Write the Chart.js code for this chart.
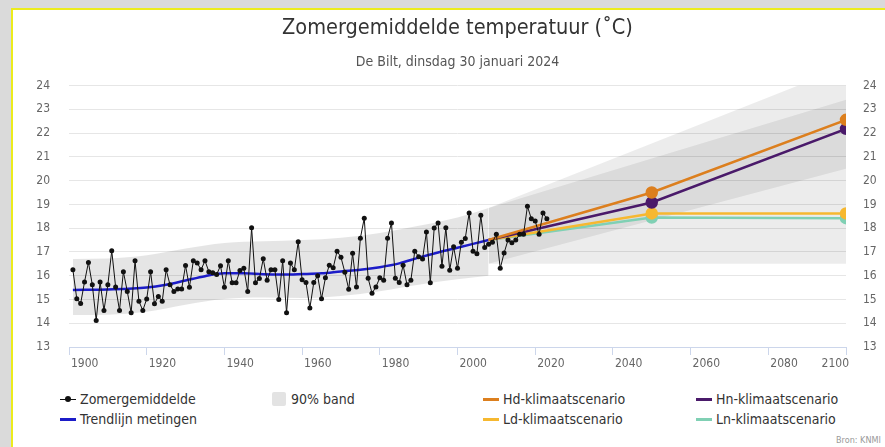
<!DOCTYPE html>
<html lang="nl">
<head>
<meta charset="utf-8">
<title>Zomergemiddelde temperatuur De Bilt</title>
<script src="https://cdn.jsdelivr.net/npm/chart.js@4.4.1/dist/chart.umd.min.js"></script>
<style>
  html, body { margin: 0; padding: 0; }
  body { width: 885px; height: 447px; overflow: hidden; background: #dadada; position: relative;
         font-family: "DejaVu Sans Condensed", "Liberation Sans Narrow", "DejaVu Sans", sans-serif; }
  #frame { position: absolute; left: 11px; top: 8px; width: 900px; height: 460px; background: #fff;
           border-top: 2px solid #ecec1c; border-left: 2px solid #ecec1c; }
  /* canvas runs on past the window edge, same as the white panel, so titles centre on the panel */
  #wrap { position: absolute; left: 0; top: 0; width: 915px; height: 380px; }
  .item { position: absolute; height: 16px; line-height: 16px; font-size: 14px; color: #333; white-space: nowrap; }
  .sym { position: relative; display: inline-block; width: 16px; height: 16px; vertical-align: top; margin-right: 4px; }
  .sym i { position: absolute; left: 0; right: 0; top: 50%; }
  .sym b { position: absolute; left: 5px; top: 5px; width: 6px; height: 6px; border-radius: 50%; }
  #bron { position: absolute; left: 836px; top: 435px; font-size: 9px; color: #999; white-space: nowrap; }
</style>
</head>
<body>
<div id="frame"></div>
<div id="wrap"><canvas id="chart"></canvas></div>
<div id="legend"></div>
<div id="bron">Bron: KNMI</div>
<script>
/* Zomergemiddelde temperatuur De Bilt, metingen + KNMI'14 scenario's */

const TITLE = "Zomergemiddelde temperatuur (˚C)";
const SUBTITLE = "De Bilt, dinsdag 30 januari 2024";
const FONT = "'DejaVu Sans Condensed', 'Liberation Sans Narrow', 'DejaVu Sans', sans-serif";

// metingen, eerste jaar 1901
const startJaar = 1901;
const zomerTemp = [
  16.25, 15.03, 14.83, 15.74, 16.56, 15.62, 14.12, 15.74, 14.54, 15.62, // 1901-1910
  17.05, 15.53, 14.54, 16.17, 15.34, 14.44, 16.63, 14.92, 14.54, 15.02, // 1911-1920
  16.17, 14.82, 15.13, 14.92, 16.25, 15.62, 15.34, 15.44, 15.44, 16.43, // 1921-1930
  15.51, 16.63, 16.54, 16.25, 16.63, 16.17, 16.12, 16.05, 16.42, 15.51, // 1931-1940
  16.63, 15.70, 15.70, 16.22, 16.31, 15.34, 18.02, 15.70, 15.88, 16.71, // 1941-1950
  15.81, 16.25, 16.25, 15.00, 16.63, 14.44, 16.53, 16.25, 17.43, 15.83, // 1951-1960
  15.71, 14.64, 15.71, 16.00, 15.03, 15.91, 16.44, 16.33, 17.03, 16.78, // 1961-1970
  16.15, 15.43, 16.94, 15.53, 17.58, 18.42, 15.89, 15.26, 15.53, 15.91, // 1971-1980
  15.81, 17.58, 18.22, 15.89, 15.71, 16.44, 15.62, 15.81, 17.03, 16.80, // 1981-1990
  16.70, 17.84, 15.70, 18.01, 18.22, 16.40, 18.02, 16.23, 17.22, 16.31, // 1991-2000
  17.41, 17.57, 18.64, 17.03, 16.92, 18.54, 17.19, 17.32, 17.41, 17.74, // 2001-2010
  16.31, 16.96, 17.50, 17.39, 17.50, 17.74, 17.74, 18.92, 18.40, 18.30, // 2011-2020
  17.74, 18.64, 18.40                                                   // 2021-2023
];

// trendlijn metingen
const trendJaren = [1901, 1910, 1920, 1925, 1930, 1935, 1940, 1945, 1950, 1955, 1960, 1965, 1970, 1975, 1980, 1985, 1990, 1995, 2000, 2008];
const trendTemp  = [15.40, 15.42, 15.50, 15.62, 15.80, 15.98, 16.10, 16.10, 16.06, 16.05, 16.07, 16.10, 16.18, 16.25, 16.36, 16.52, 16.76, 16.98, 17.18, 17.50];

// 90% band rond de trendlijn
const bandJaren = [1901, 1910, 1920, 1930, 1940, 1950, 1960, 1970, 1980, 1990, 2000, 2008];
const bandLaag  = [14.35, 14.36, 14.48, 14.78, 15.02, 15.08, 15.06, 15.15, 15.35, 15.62, 15.85, 16.00];
const bandHoog  = [16.70, 16.72, 16.86, 17.14, 17.38, 17.45, 17.50, 17.60, 17.80, 18.10, 18.45, 18.85];

// klimaatscenario's
const scenJaren = [2008, 2050, 2100];
const hd = [17.5, 19.50, 22.56];
const hn = [17.5, 19.08, 22.18];
const ld = [17.5, 18.62, 18.62];
const ln = [17.5, 18.45, 18.42];

// onzekerheidsbanden scenario's
const futJaren  = [2008, 2100];
const hBandLaag = [16.50, 20.50];
const hBandHoog = [18.85, 24.80];
const lBandLaag = [16.50, 16.50];
const lBandHoog = [18.85, 23.40];

const COL = {
  meting: "#111111", trend: "#1c1cc8", band: "rgba(0,0,0,0.10)", scenBand: "rgba(0,0,0,0.075)",
  hd: "#dc7f1e", hn: "#4a1a6a", ld: "#f6b830", ln: "#80d0b4",
};

const pts = (xs, ys) => xs.map((x, i) => ({ x, y: ys[i] }));
const metingen = zomerTemp.map((v, i) => ({ x: startJaar + i, y: v }));

function bandSet(label, xs, ys, fill, order, color) {
  return { label, data: pts(xs, ys), borderWidth: 0, pointRadius: 0, backgroundColor: color,
           cubicInterpolationMode: "monotone", fill, order };
}
function scenSet(label, ys, color) {
  return { label, data: pts(scenJaren, ys), borderColor: color, backgroundColor: color, borderWidth: 2.5,
           pointRadius: [0, 5, 5], pointHoverRadius: 5, fill: false, order: 1 };
}

const datasets = [
  bandSet("band laag", bandJaren, bandLaag, false, 10, COL.band),
  bandSet("90% band", bandJaren, bandHoog, "-1", 10, COL.band),
  bandSet("H laag", futJaren, hBandLaag, false, 9, COL.scenBand),
  bandSet("H hoog", futJaren, hBandHoog, "-1", 9, COL.scenBand),
  bandSet("L laag", futJaren, lBandLaag, false, 8, COL.scenBand),
  bandSet("L hoog", futJaren, lBandHoog, "-1", 8, COL.scenBand),
  scenSet("Hd-klimaatscenario", hd, COL.hd),
  scenSet("Hn-klimaatscenario", hn, COL.hn),
  scenSet("Ld-klimaatscenario", ld, COL.ld),
  scenSet("Ln-klimaatscenario", ln, COL.ln),
  { label: "Trendlijn metingen", data: pts(trendJaren, trendTemp), borderColor: COL.trend, borderWidth: 2.5,
    pointRadius: 0, cubicInterpolationMode: "monotone", fill: false, order: 2 },
  { label: "Zomergemiddelde", data: metingen, borderColor: COL.meting, backgroundColor: COL.meting, borderWidth: 1,
    pointRadius: 2.5, pointBorderWidth: 0, fill: false, order: 0 },
];

/* last x label sits right-aligned against the plot edge, like the original */
const lastLabel = {
  id: "lastLabel",
  afterDraw(chart) {
    const s = chart.scales.x, ctx = chart.ctx;
    ctx.save();
    ctx.font = "12px " + FONT;
    ctx.fillStyle = "#666";
    ctx.textAlign = "right";
    ctx.textBaseline = "middle";
    ctx.fillText("2100", s.getPixelForValue(2100) + 3, s.top + 17);
    ctx.restore();
  },
};

const yTicks = { color: "#666", font: { size: 12, family: FONT }, stepSize: 1, padding: 0 };

new Chart(document.getElementById("chart"), {
  type: "line",
  data: { datasets },
  plugins: [lastLabel],
  options: {
    responsive: true, maintainAspectRatio: false, animation: false,
    layout: { padding: 0 },
    plugins: {
      legend: { display: false },
      tooltip: { enabled: false },
      title: { display: true, text: TITLE, color: "#333", font: { size: 21.5, weight: "normal", family: FONT }, padding: { top: 16, bottom: 10 } },
      subtitle: { display: true, text: SUBTITLE, color: "#555", font: { size: 14, weight: "normal", family: FONT }, padding: { top: 2, bottom: 15 } },
    },
    scales: {
      x: {
        type: "linear", min: 1900, max: 2100,
        afterFit: (s) => { s.height = 33; },
        ticks: { stepSize: 20, align: "start", labelOffset: 2, padding: 2, color: "#666", font: { size: 12, family: FONT },
                 callback: (v) => (v === 2100 ? "" : String(v)) },
        grid: { drawOnChartArea: false, drawTicks: true, tickLength: 8, color: "#ccd6eb" },
        border: { color: "#ccd6eb" },
      },
      y: {
        position: "left", min: 13, max: 24,
        afterFit: (s) => { s.width = 69; },
        ticks: yTicks,
        grid: { color: "#e6e6e6", drawTicks: true, tickLength: 19, tickColor: "rgba(0,0,0,0)" },
        border: { display: false },
      },
      y2: {
        position: "right", min: 13, max: 24,
        afterFit: (s) => { s.width = 69; },
        ticks: yTicks,
        grid: { drawOnChartArea: false, drawTicks: true, tickLength: 17, tickColor: "rgba(0,0,0,0)" },
        border: { display: false },
      },
    },
  },
});

/* legend, laid out in four columns like the original */
const legendItems = [
  { label: "Zomergemiddelde", type: "dot", color: COL.meting, x: 60, row: 0 },
  { label: "90% band", type: "box", color: "#e3e3e3", x: 272, row: 0 },
  { label: "Hd-klimaatscenario", type: "line", color: COL.hd, x: 483, row: 0 },
  { label: "Hn-klimaatscenario", type: "line", color: COL.hn, x: 696, row: 0 },
  { label: "Trendlijn metingen", type: "line", color: COL.trend, x: 60, row: 1 },
  { label: "Ld-klimaatscenario", type: "line", color: COL.ld, x: 483, row: 1 },
  { label: "Ln-klimaatscenario", type: "line", color: COL.ln, x: 696, row: 1 },
];
const legendEl = document.getElementById("legend");
for (const it of legendItems) {
  const d = document.createElement("div");
  d.className = "item";
  d.style.left = it.x + "px";
  d.style.top = (391 + it.row * 20) + "px";
  const s = document.createElement("span");
  s.className = "sym";
  if (it.type === "box") {
    s.style.width = "14px"; s.style.height = "14px"; s.style.marginTop = "1px";
    s.style.background = it.color; s.style.borderRadius = "2px"; s.style.marginRight = "5px";
  } else {
    const ln = document.createElement("i");
    ln.style.background = it.color;
    ln.style.height = it.type === "dot" ? "1px" : "3px";
    ln.style.marginTop = it.type === "dot" ? "0" : "-1px";
    s.appendChild(ln);
    if (it.type === "dot") {
      const b = document.createElement("b");
      b.style.background = it.color;
      s.appendChild(b);
    }
  }
  d.appendChild(s);
  d.appendChild(document.createTextNode(it.label));
  legendEl.appendChild(d);
}
</script>
</body>
</html>
